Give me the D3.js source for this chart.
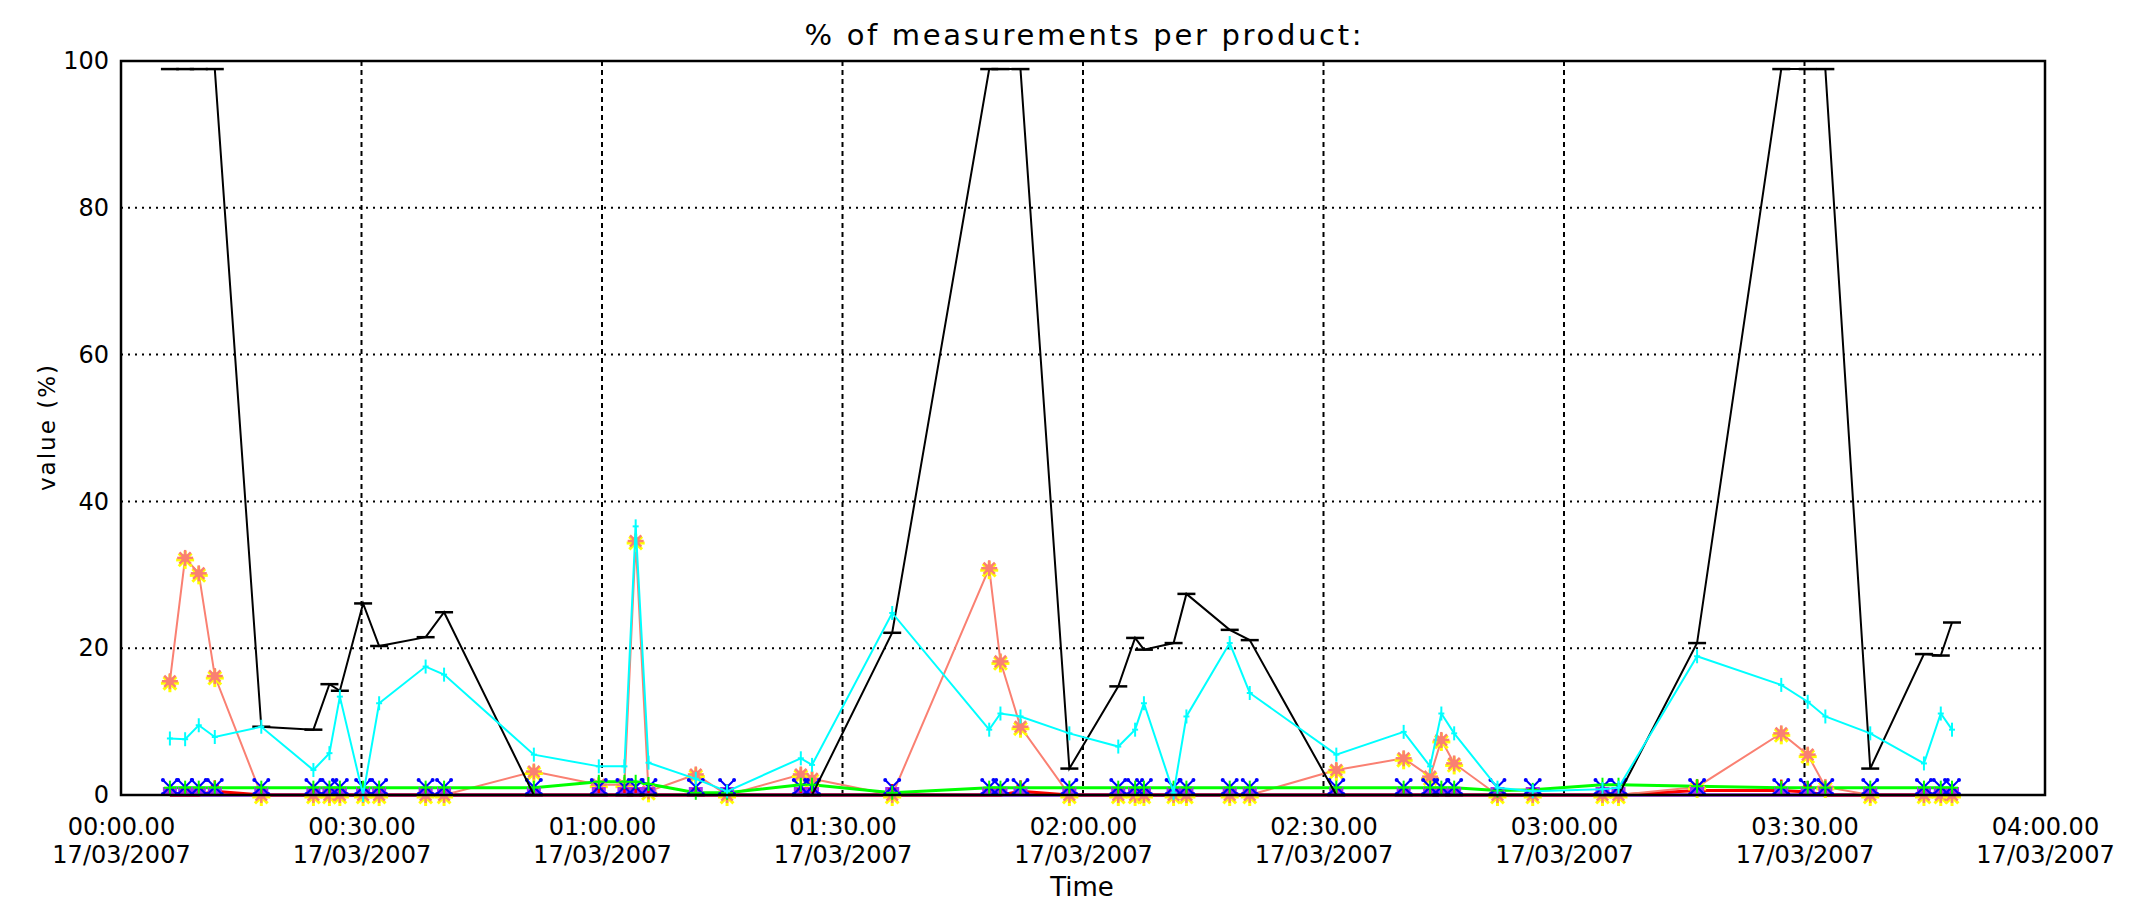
<!DOCTYPE html>
<html>
<head>
<meta charset="utf-8">
<script src="https://cdn.jsdelivr.net/npm/d3@7"></script>
<style>
  html, body { margin: 0; padding: 0; background: #ffffff; }
  svg { display: block; }
  text { font-family: "DejaVu Sans", "Liberation Sans", sans-serif; fill: #000; }
</style>
</head>
<body>
<script>
// ---------------- data ----------------
const dateStr = "2007-03-17";
const times = ["00:06:06","00:08:00","00:09:42","00:11:42","00:17:30","00:24:00","00:26:00","00:27:18","00:30:12","00:32:12",
               "00:38:00","00:40:18","00:51:30","00:59:36","01:02:48","01:04:12","01:05:48","01:11:42","01:15:36","01:24:48",
               "01:26:12","01:36:12","01:48:18","01:49:42","01:52:12","01:58:18","02:04:24","02:06:30","02:07:36","02:11:18",
               "02:12:54","02:18:18","02:20:48","02:31:36","02:40:00","02:43:18","02:44:42","02:46:18","02:51:42","02:56:06",
               "03:04:48","03:06:48","03:16:36","03:27:06","03:30:24","03:32:36","03:38:12","03:44:54","03:47:00","03:48:24"];
const blackSeries  = [98.9,98.9,98.9,98.9,9.3,8.9,15.1,14.2,26.1,20.3,
                      21.5,24.9,0,0,0,0,0,0,0,0,
                      0,22.1,98.9,98.9,98.9,3.6,14.8,21.4,19.8,20.7,
                      27.4,22.5,21.1,0,0,0,0,0,0,0,
                      0,0,20.7,98.9,98.9,98.9,3.6,19.2,19.0,23.5];
const cyanSeries   = [7.7,7.6,9.5,7.9,9.3,3.4,5.7,13.4,0,12.5,
                      17.5,16.4,5.5,3.9,3.9,36.6,4.4,2.2,0.5,5.0,
                      4.1,24.8,8.9,11.1,10.7,8.4,6.6,8.9,12.5,0.3,
                      10.7,20.7,13.9,5.5,8.6,3.9,11.1,8.4,1.0,0.5,
                      0.8,1.0,18.9,15.0,12.7,10.7,8.4,4.3,11.1,8.9];
const salmonSeries = [15.5,32.3,30.2,16.2,0,0,0,0,0,0,
                      0,0,3.2,1.4,1.4,34.6,0.5,2.8,0,2.8,
                      2.2,0,30.9,18.2,9.3,0,0,0,0,0,
                      0,0,0,3.4,5.0,2.5,7.5,4.3,0,0,
                      0,0,1.1,8.4,5.5,1.1,0,0,0,0];
const greenSeries  = [1,1,1,1,1,1,1,1,1,1,
                      1,1,1,1.8,1.8,1.8,1.5,0.3,0.3,1.4,
                      1.4,0.3,1,1,1,1,1,1,1,1,
                      1,1,1,1,1,1,1,1,0.6,0.7,
                      1.4,1.4,1.2,1,1,1,1,1,1,1];
const blueSeries   = [1.1,1.1,1.1,1.1,1.1,1.1,1.1,1.1,1.1,1.1,
                      1.1,1.1,1.1,1.1,1.1,1.1,1.1,1.1,1.1,1.1,
                      1.1,1.1,1.1,1.1,1.1,1.1,1.1,1.1,1.1,1.1,
                      1.1,1.1,1.1,1.1,1.1,1.1,1.1,1.1,1.1,1.1,
                      1.1,1.1,1.1,1.1,1.1,1.1,1.1,1.1,1.1,1.1];
const redSeries    = [0,0,0,0.5,0,0,0,0,0,0,
                      0,0,0,0,0,0,0,0,0,0,
                      0,0,0,0,0.5,0,0,0,0,0,
                      0,0,0,0,0,0,0,0,0,0,
                      0,0,0.6,0.6,0.4,0,0,0,0,0];
const purpleSeries = [0,0,0,0,0,0,0,0,0,0,
                      0,0,0,0,0,0,0,0,0,0,
                      0,0,0,0,0,0,0,0,0,0,
                      0,0,0,0,0,0,0,0,0,0,
                      0,0,0,0,0,0,0,0,0,0];
const yTicks = [0, 20, 40, 60, 80, 100];
const xStart = "00:00:00", xEnd = "04:00:00";
const titleText = "% of measurements per product:";
const xTitle = "Time";
const yTitle = "value (%)";

// ---------------- layout ----------------
const W = 2131, H = 902;
const M = { left: 121, right: 2045, top: 61, bottom: 795 };

const parse = d3.timeParse("%Y-%m-%d %H:%M:%S");
const toDate = s => parse(dateStr + " " + s);
const dates = times.map(toDate);

const x = d3.scaleTime().domain([toDate(xStart), toDate(xEnd)]).range([M.left, M.right]);
const y = d3.scaleLinear().domain([0, 100]).range([M.bottom, M.top]);

const svg = d3.select("body").append("svg").attr("width", W).attr("height", H);

// grid
const xTickVals = d3.timeMinute.every(30).range(toDate(xStart), d3.timeMinute.offset(toDate(xEnd), 1));
svg.append("g").selectAll("line").data(xTickVals.slice(1, -1)).join("line")
  .attr("x1", d => x(d)).attr("x2", d => x(d))
  .attr("y1", M.top).attr("y2", M.bottom)
  .attr("stroke", "#000").attr("stroke-width", 2).attr("stroke-dasharray", "5,4");
svg.append("g").selectAll("line").data(yTicks.slice(1, -1)).join("line")
  .attr("x1", M.left).attr("x2", M.right)
  .attr("y1", d => y(d)).attr("y2", d => y(d))
  .attr("stroke", "#000").attr("stroke-width", 2).attr("stroke-dasharray", "2,5");

// axes (labels)
const fmtT = d3.timeFormat("%H:%M.00");
const fmtD = d3.timeFormat("%d/%m/%Y");
const xAxis = svg.append("g").attr("transform", `translate(0,${M.bottom})`)
  .call(d3.axisBottom(x).tickValues(xTickVals).tickSize(0).tickFormat(""));
xAxis.select(".domain").remove();
xAxis.selectAll(".tick text").remove();
xAxis.selectAll(".tick").each(function(d) {
  const t = d3.select(this).append("text").attr("text-anchor", "middle")
    .style("font-size", "24px");
  t.append("tspan").attr("x", 0).attr("y", 40).text(fmtT(d));
  t.append("tspan").attr("x", 0).attr("y", 68).text(fmtD(d));
});

const yAxis = svg.append("g").attr("transform", `translate(${M.left},0)`)
  .call(d3.axisLeft(y).tickValues(yTicks).tickSize(0).tickPadding(12).tickFormat(d3.format("d")));
yAxis.select(".domain").remove();
yAxis.selectAll(".tick text").style("font-size", "24px").attr("font-family", "DejaVu Sans");

// titles
svg.append("text").attr("x", (M.left + M.right) / 2).attr("y", 45)
  .attr("text-anchor", "middle").style("font-size", "29px")
  .attr("textLength", 557).attr("lengthAdjust", "spacing").text(titleText);
svg.append("text").attr("x", (M.left + M.right) / 2 - 1).attr("y", 896)
  .attr("text-anchor", "middle").style("font-size", "26px").text(xTitle);
svg.append("text").attr("transform", `translate(55,428) rotate(-90)`)
  .attr("text-anchor", "middle").style("font-size", "23px")
  .attr("textLength", 126).attr("lengthAdjust", "spacing").text(yTitle);

// series helpers
const pts = vals => vals.map((v, i) => ({ d: dates[i], v }));
const line = d3.line().x(p => x(p.d)).y(p => y(p.v));
const plot = svg.append("g");

function drawLine(vals, color, width) {
  plot.append("path").datum(pts(vals)).attr("d", line)
    .attr("fill", "none").attr("stroke", color).attr("stroke-width", width)
    .attr("stroke-linejoin", "miter");
}
function drawMarkers(vals, painter) {
  const g = plot.append("g");
  pts(vals).forEach(p => painter(g.append("g").attr("transform", `translate(${x(p.d)},${y(p.v)})`)));
}
const seg = (g, x1, y1, x2, y2, c, w) =>
  g.append("line").attr("x1", x1).attr("y1", y1).attr("x2", x2).attr("y2", y2)
   .attr("stroke", c).attr("stroke-width", w);

// purple
drawLine(purpleSeries, "#a030f0", 3.5);
// red
drawLine(redSeries, "#ff0000", 3);
// salmon line
drawLine(salmonSeries, "#fa8072", 2);
// green line
drawLine(greenSeries, "#00ff00", 3);
// salmon asterisks with yellow underlay
drawMarkers(salmonSeries, g => {
  const gy = g.append("g").attr("transform", "translate(0,2)");
  [0, 45, 90, 135].forEach(a => {
    const r = 9, c = Math.cos(a * Math.PI / 180) * r, s = Math.sin(a * Math.PI / 180) * r;
    seg(gy, -c, -s, c, s, "#ffff00", 3);
  });
  [0, 45, 90, 135].forEach(a => {
    const r = 8, c = Math.cos(a * Math.PI / 180) * r, s = Math.sin(a * Math.PI / 180) * r;
    seg(g, -c, -s, c, s, "#fa8072", 2.5);
  });
  g.append("circle").attr("r", 4).attr("fill", "#fa8072");
});
// purple filled markers
drawMarkers(purpleSeries, g => g.append("rect").attr("x", -7).attr("y", -8).attr("width", 14).attr("height", 8).attr("fill", "#a030f0"));
// red markers
drawMarkers(redSeries, g => { seg(g, 0, -11, 0, -2, "#ff0000", 2.5); seg(g, -4, -6, 4, -6, "#ff0000", 2); });
// blue X markers
drawMarkers(blueSeries, g => {
  seg(g, -7, -7, 7, 7, "#0000ff", 2); seg(g, -7, 7, 7, -7, "#0000ff", 2);
  [[-7,-7],[7,-7],[-7,7],[7,7]].forEach(([a,b]) => g.append("circle").attr("cx", a).attr("cy", b).attr("r", 2).attr("fill", "#0000ff"));
});
// green + markers
drawMarkers(greenSeries, g => { seg(g, 0, -7, 0, 7, "#00ff00", 2); seg(g, -6, 0, 6, 0, "#00ff00", 2); });
// black
drawLine(blackSeries, "#000000", 2);
drawMarkers(blackSeries, g => seg(g, -9, 0, 9, 0, "#000000", 2.5));
// cyan
drawLine(cyanSeries, "#00ffff", 2);
drawMarkers(cyanSeries, g => { seg(g, 0, -7, 0, 7, "#00ffff", 2); seg(g, -3, 0, 3, 0, "#00ffff", 2); });

// frame
svg.append("rect").attr("x", M.left).attr("y", M.top)
  .attr("width", M.right - M.left).attr("height", M.bottom - M.top)
  .attr("fill", "none").attr("stroke", "#000").attr("stroke-width", 2.5);
</script>
</body>
</html>
